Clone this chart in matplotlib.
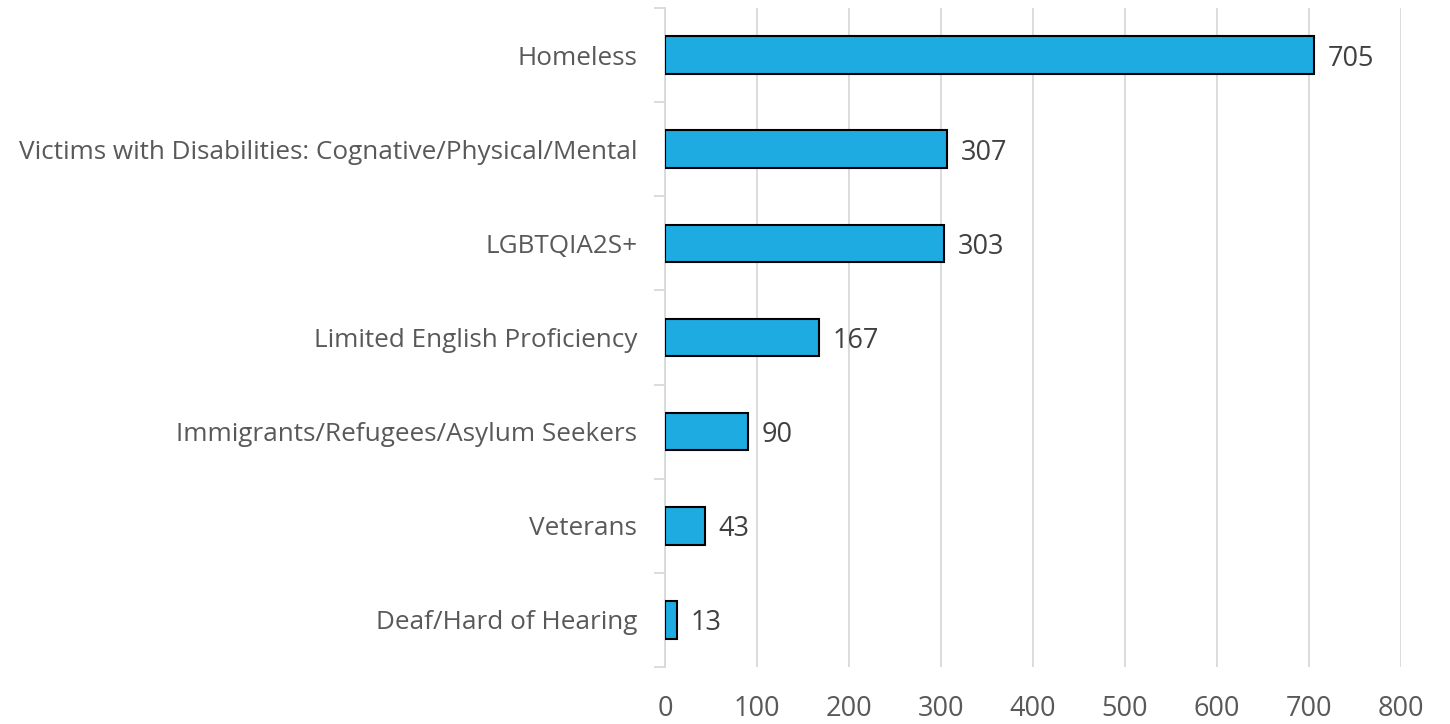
import matplotlib.pyplot as plt
from matplotlib.ticker import FixedLocator

plt.rcParams['font.family'] = ['Open Sans', 'DejaVu Sans']

categorias = ["Homeless",
              "Victims with Disabilities: Cognative/Physical/Mental",
              "LGBTQIA2S+",
              "Limited English Proficiency",
              "Immigrants/Refugees/Asylum Seekers",
              "Veterans",
              "Deaf/Hard of Hearing"]
valores = [705, 307, 303, 167, 90, 43, 13]
ticks_x = [0, 100, 200, 300, 400, 500, 600, 700, 800]

fig = plt.figure(figsize=(14.5, 7.24), dpi=100)
ax = fig.add_axes([0.4586, 0.0787, 0.5076, 0.9103])

pos = list(range(len(categorias)))[::-1]
ax.barh(pos, valores, height=0.4, color="#1DABE2", edgecolor="black", linewidth=1.5, zorder=3)

for p, v in zip(pos, valores):
    ax.text(v + 15, p, str(v), va="center_baseline", ha="left", fontsize=19.5, color="#404040")

ax.set_xlim(0, 800)
ax.set_ylim(-0.5, len(categorias) - 0.5)
ax.set_xticks(ticks_x)
ax.set_xticklabels([str(t) for t in ticks_x], fontsize=19.5, color="#595959")
ax.tick_params(axis="x", length=0, pad=20)
ax.xaxis.grid(True, color="#d9d9d9", linewidth=1.3, zorder=0)

ax.set_yticks(pos)
ax.set_yticklabels(categorias, fontsize=18.8, color="#595959")
ax.tick_params(axis="y", which="major", length=0, pad=20)
ax.yaxis.set_minor_locator(FixedLocator([i - 0.5 for i in range(len(categorias) + 1)]))
ax.tick_params(axis="y", which="minor", length=8, color="#d9d9d9", width=1.3)

for lado in ["top", "right", "bottom"]:
    ax.spines[lado].set_visible(False)
ax.spines["left"].set_color("#d9d9d9")
ax.spines["left"].set_linewidth(1.3)

fig.savefig("out.png", dpi=100)
